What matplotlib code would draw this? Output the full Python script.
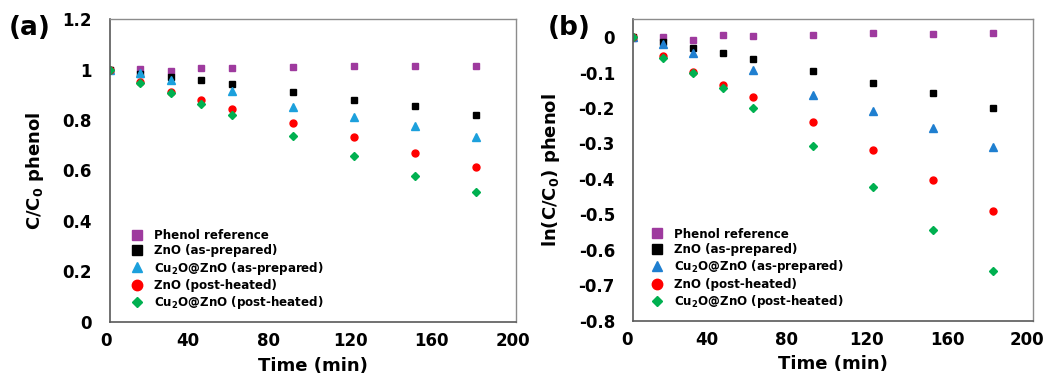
import numpy as np
import matplotlib
matplotlib.use('Agg')
import matplotlib.pyplot as plt
import matplotlib.transforms as mtransforms
from matplotlib.ticker import FixedLocator, FuncFormatter

plt.rcParams['font.family'] = ['DejaVu Sans']
plt.rcParams['font.weight'] = 'bold'
plt.rcParams['mathtext.fontset'] = 'custom'
plt.rcParams['mathtext.rm'] = 'DejaVu Sans:bold'
plt.rcParams['mathtext.bf'] = 'DejaVu Sans:bold'
plt.rcParams['mathtext.default'] = 'bf'
plt.rcParams['axes.unicode_minus'] = False

# irradiation time (min)
time = [0, 15, 30, 45, 60, 90, 120, 150, 180]

labels = ['Phenol reference', 'ZnO (as-prepared)', 'Cu$_2$O@ZnO (as-prepared)',
          'ZnO (post-heated)', 'Cu$_2$O@ZnO (post-heated)']

# (a) C/C0
ratio_ref = [1.0, 1.002, 0.995, 1.007, 1.004, 1.008, 1.013, 1.012, 1.013]
ratio_zno = [1.0, 0.983, 0.971, 0.958, 0.942, 0.910, 0.881, 0.855, 0.819]
ratio_cu_zno = [1.0, 0.986, 0.958, None, 0.913, 0.850, 0.813, 0.776, 0.734]
ratio_zno_ph = [1.0, 0.950, 0.910, 0.878, 0.845, 0.789, 0.731, 0.669, 0.613]
ratio_cu_zno_ph = [1.0, 0.945, 0.906, 0.865, 0.819, 0.736, 0.658, 0.580, 0.516]

# (b) ln(C/C0)
ln_ref = [-0.002, 0.001, -0.009, 0.006, 0.004, 0.007, 0.011, 0.010, 0.012]
ln_zno = [0.0, -0.013, -0.032, -0.046, -0.061, -0.096, -0.128, -0.158, -0.199]
ln_cu_zno = [0.0, -0.018, -0.045, None, -0.093, -0.164, -0.208, -0.255, -0.311]
ln_zno_ph = [0.0, -0.053, -0.097, -0.135, -0.170, -0.239, -0.317, -0.402, -0.491]
ln_cu_zno_ph = [0.0, -0.058, -0.101, -0.144, -0.200, -0.308, -0.422, -0.545, -0.660]

markers = ['s', 's', '^', 'o', 'D']
sizes = [4.8, 4.8, 5.2, 5.0, 3.6]
colors_a = ['#9e3a9e', '#000000', '#1ca0dc', '#ff0000', '#00b050']
colors_b = ['#9e3a9e', '#000000', '#1f7fd0', '#ff0000', '#00b050']


def clean(xs, ys):
    pts = [(x, y) for x, y in zip(xs, ys) if y is not None]
    return [p[0] for p in pts], [p[1] for p in pts]


def fmt(v, p):
    v = round(v, 2)
    if abs(v) < 1e-9:
        return '0'
    return f'{v:g}'


def style(ax, fig, dx_px):
    for s in ['top', 'right']:
        ax.spines[s].set_color('#8c8c8c')
        ax.spines[s].set_linewidth(1.0)
    for s in ['left', 'bottom']:
        ax.spines[s].set_color('#595959')
        ax.spines[s].set_linewidth(1.2)
    ax.tick_params(length=0, labelsize=12)
    ax.tick_params(axis='y', pad=13)
    ax.tick_params(axis='x', pad=7)
    ax.set_xlim(0, 200)
    ax.xaxis.set_major_locator(FixedLocator([0, 40, 80, 120, 160, 200]))
    ax.yaxis.set_major_formatter(FuncFormatter(fmt))
    off = mtransforms.ScaledTranslation(dx_px / 100, 0, fig.dpi_scale_trans)
    for lab in ax.get_xticklabels():
        lab.set_transform(lab.get_transform() + off)
    ax.set_xlabel('Time (min)', fontsize=13, fontweight='bold', labelpad=5)


fig = plt.figure(figsize=(10.47, 3.73), dpi=100)
ax1 = fig.add_axes([0.105, 0.137, 0.388, 0.812])
ax2 = fig.add_axes([0.6046, 0.140, 0.382, 0.808])

series_a = [ratio_ref, ratio_zno, ratio_cu_zno, ratio_zno_ph, ratio_cu_zno_ph]
series_b = [ln_ref, ln_zno, ln_cu_zno, ln_zno_ph, ln_cu_zno_ph]

for ys, m, ms, c, lab in zip(series_a, markers, sizes, colors_a, labels):
    x, y = clean(time, ys)
    ax1.plot(x, y, linestyle='none', marker=m, ms=ms, color=c, label=lab)
for ys, m, ms, c, lab in zip(series_b, markers, sizes, colors_b, labels):
    x, y = clean(time, ys)
    ax2.plot(x, y, linestyle='none', marker=m, ms=ms, color=c, label=lab)

ax1.set_ylim(0, 1.2)
ax1.yaxis.set_major_locator(FixedLocator(np.arange(0, 1.21, 0.2)))
ax2.set_ylim(-0.8, 0.05)
ax2.yaxis.set_major_locator(FixedLocator(np.arange(-0.8, 0.01, 0.1)))

style(ax1, fig, -3.5)
style(ax2, fig, -6)

ax1.set_ylabel('C/C$_0$ phenol', fontsize=13, fontweight='bold', labelpad=12)
ax2.set_ylabel('ln(C/C$_0$) phenol', fontsize=13, fontweight='bold', labelpad=12)

for ax, bx in [(ax1, 0.053), (ax2, 0.046)]:
    ax.legend(loc='lower left', bbox_to_anchor=(bx, 0.035), frameon=False,
              borderaxespad=0, borderpad=0, fontsize=8.6, handlelength=1.0,
              handletextpad=0.9, labelspacing=0.2, markerscale=1.5)

fig.text(0.008, 0.925, '(a)', fontsize=19, fontweight='bold', va='center')
fig.text(0.523, 0.925, '(b)', fontsize=19, fontweight='bold', va='center')

fig.savefig('out.png', dpi=100)
